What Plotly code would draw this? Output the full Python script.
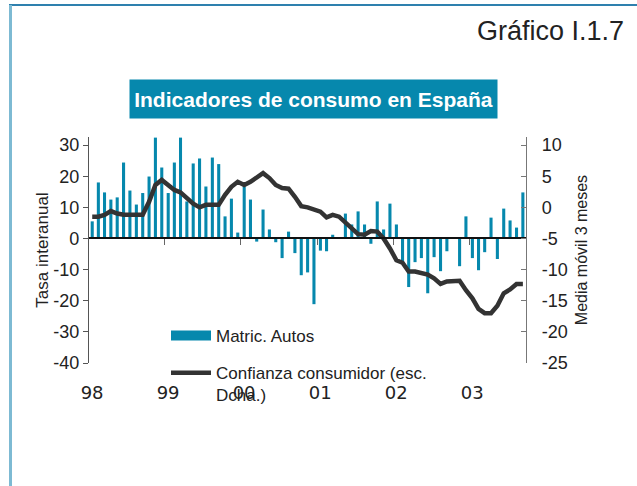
import pandas as pd
import plotly.graph_objects as go

# ---- data (monthly, Jan 1998 - Sep 2003) ----
months = pd.date_range("1998-01-01", periods=69, freq="MS")
matric_autos = [5.5, 18.0, 14.8, 12.5, 13.2, 24.4, 15.4, 10.9, 14.6, 19.9,
                32.4, 22.8, 14.6, 24.4, 32.4, 11.9, 24.1, 25.7, 16.7, 26.0,
                23.9, 7.1, 12.8, 1.9, 16.7, 12.5, -1.0, 9.3, 2.9, -1.2,
                -6.3, 2.2, -4.7, -11.8, -10.9, -21.1, -3.9, -4.1, 1.2, 0.0,
                8.0, 4.5, 8.7, 4.5, -1.7, 11.9, 2.9, 11.2, 4.5, -7.6,
                -15.6, -7.6, -6.3, -17.6, -6.0, -10.5, -4.1, 0.3, -8.9, 7.1,
                -6.3, -10.2, -4.4, 6.7, -6.6, 9.6, 5.8, 3.5, 14.8]
confianza = [-1.5, -1.5, -1.2, -0.6, -1.0, -1.2, -1.2, -1.2, -1.2, 0.9,
             3.6, 4.4, 3.6, 2.8, 2.4, 1.4, 0.6, 0.0, 0.4, 0.4,
             0.4, 2.0, 3.3, 4.1, 3.6, 4.1, 4.9, 5.5, 4.7, 3.6,
             3.1, 3.0, 1.7, 0.2, 0.0, -0.3, -0.7, -1.6, -1.2, -1.5,
             -2.5, -3.5, -4.3, -4.4, -3.8, -3.9, -5.0, -6.6, -8.5, -8.9,
             -10.3, -10.3, -10.6, -10.8, -11.4, -12.3, -11.9, -11.9, -11.8, -13.3,
             -14.6, -16.3, -17.0, -17.0, -15.8, -13.8, -13.2, -12.3, -12.3]
year_labels = ["98", "99", "00", "01", "02", "03"]
year_label_pos = ["1998-01-16", "1999-01-16", "2000-01-16", "2001-01-16", "2002-01-16", "2003-01-16"]
year_starts = ["1999-01-01", "2000-01-01", "2001-01-01", "2002-01-01", "2003-01-01"]
left_ticks = [-40, -30, -20, -10, 0, 10, 20, 30]
right_ticks = [-25, -20, -15, -10, -5, 0, 5, 10]

TEAL = "#0688AD"
DARK = "#333333"
TXT = "#222222"
FONT = "Liberation Sans, Arial, sans-serif"

W, H = 637, 486
L, R, T, B = 89, 111, 137, 123
pw, ph = W - L - R, H - T - B


def px(x):
    return (x - L) / pw


def py(y):
    return (H - B - y) / ph


LEFT_RANGE = [-40, 32.6]
RIGHT_RANGE = [-25, -25 + (LEFT_RANGE[1] + 40) / 2]
zero_pos = (0 - LEFT_RANGE[0]) / (LEFT_RANGE[1] - LEFT_RANGE[0])

fig = go.Figure()
fig.add_trace(go.Bar(
    x=months, y=matric_autos, name="Matric. Autos",
    marker=dict(color=TEAL, line=dict(width=0)),
    xperiod="M1", xperiodalignment="middle",
    legendgroup="autos", showlegend=False,
    xaxis="x", yaxis="y",
))
# legend swatch for the bars (wide rectangle as in the original)
fig.add_trace(go.Scatter(
    x=[None], y=[None], mode="lines", name="Matric. Autos",
    line=dict(color=TEAL, width=12), legendgroup="autos",
    xaxis="x", yaxis="y",
))
fig.add_trace(go.Scatter(
    x=months, y=confianza, mode="lines",
    name="Confianza consumidor (esc.<br>Dcha.)",
    line=dict(color=DARK, width=4.5),
    xperiod="M1", xperiodalignment="middle",
    legendgroup="conf",
    xaxis="x2", yaxis="y2",
))

fig.update_layout(
    width=W, height=H,
    margin=dict(l=L, r=R, t=T, b=B, autoexpand=False),
    paper_bgcolor="white", plot_bgcolor="white",
    font=dict(family=FONT, size=17, color=TXT),
    bargap=0.5,
    showlegend=True,
    legend=dict(
        x=px(166), y=py(318), xanchor="left", yanchor="top",
        bgcolor="rgba(0,0,0,0)", font=dict(size=17, family=FONT, color=TXT),
        traceorder="grouped", tracegroupgap=12, itemwidth=40, valign="top",
    ),
    xaxis=dict(
        range=["1998-01-01", "2003-10-01"],
        showline=False, showgrid=False, zeroline=False,
        tickmode="array", tickvals=year_label_pos, ticktext=year_labels,
        ticks="", ticklabelstandoff=17,
        tickfont=dict(family="DejaVu Sans", size=18, color=TXT),
    ),
    xaxis2=dict(
        overlaying="x", matches="x", anchor="free", position=zero_pos,
        showline=True, linecolor="#111111", linewidth=1.5,
        showgrid=False, zeroline=False,
        tickmode="array", tickvals=year_starts,
        ticks="outside", ticklen=6, tickcolor="#666666", tickwidth=1,
        showticklabels=False,
    ),
    yaxis=dict(
        range=LEFT_RANGE, tickmode="array", tickvals=left_ticks,
        ticktext=[str(v) for v in left_ticks],
        showline=True, linecolor="#555555", linewidth=1.2,
        ticks="outside", ticklen=5, tickcolor="#555555",
        showgrid=False, zeroline=False,
        tickfont=dict(size=18, family=FONT, color=TXT),
        title=dict(text="Tasa interanual", font=dict(size=17, family=FONT, color=TXT), standoff=0),
    ),
    yaxis2=dict(
        range=RIGHT_RANGE, overlaying="y", side="right", anchor="x",
        tickmode="array", tickvals=right_ticks,
        ticktext=[str(v) for v in right_ticks],
        showline=True, linecolor="#777777", linewidth=1.2,
        ticks="inside", ticklen=5, tickcolor="#777777", ticklabelstandoff=11,
        showgrid=False, zeroline=False,
        tickfont=dict(size=18, family=FONT, color=TXT),
        title=dict(text="Media móvil 3 meses", font=dict(size=16, family=FONT, color=TXT), standoff=9),
    ),
    shapes=[
        dict(type="line", xref="paper", yref="paper", x0=px(9), x1=px(W), y0=py(5), y1=py(5),
             line=dict(color="#2E80AE", width=2)),
        dict(type="line", xref="paper", yref="paper", x0=px(10.5), x1=px(10.5), y0=py(5), y1=py(H),
             line=dict(color="#7DBAD3", width=3)),
    ],
    annotations=[
        dict(text="Gráfico I.1.7", xref="paper", yref="paper", x=px(626), y=py(31),
             xanchor="right", yanchor="middle", showarrow=False,
             font=dict(size=27, family=FONT, color=TXT)),
        dict(text="<b>Indicadores de consumo en España</b>", xref="paper", yref="paper",
             x=px(313.5), y=py(99), xanchor="center", yanchor="middle", showarrow=False,
             width=367, height=38, bgcolor=TEAL, borderpad=0,
             font=dict(size=21, family=FONT, color="white")),
    ],
)

fig.write_html(
    "out.html",
    config={"displayModeBar": False},
    post_script="document.body.style.margin='0';document.body.style.overflow='hidden';",
)
